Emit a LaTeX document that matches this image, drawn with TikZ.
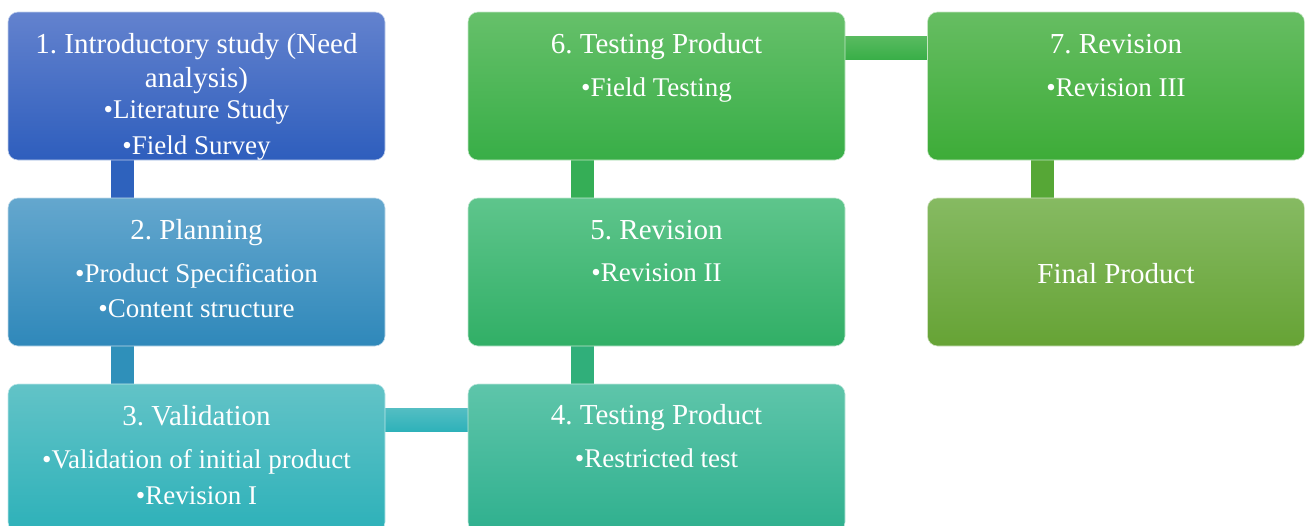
\documentclass[tikz,border=0pt]{standalone}
\usepackage{fontspec}
\setmainfont{Liberation Serif}
\usetikzlibrary{calc,backgrounds}
\frenchspacing
\definecolor{aT}{HTML}{6382CE}\definecolor{aB}{HTML}{2E5EBD}
\definecolor{bT}{HTML}{64A7CE}\definecolor{bB}{HTML}{2F88BA}
\definecolor{cT}{HTML}{62C3C7}\definecolor{cB}{HTML}{2DB1B9}
\definecolor{dT}{HTML}{5EC5AA}\definecolor{dB}{HTML}{2FB08E}
\definecolor{eT}{HTML}{5EC58C}\definecolor{eB}{HTML}{31AF66}
\definecolor{fT}{HTML}{66C06A}\definecolor{fB}{HTML}{38AE47}
\definecolor{gT}{HTML}{66BD62}\definecolor{gB}{HTML}{3DAC38}
\definecolor{hT}{HTML}{86BA62}\definecolor{hB}{HTML}{66A335}
\tikzset{
  stagebox/.style={rounded corners=10pt, minimum width=377pt, minimum height=148pt, inner sep=0pt, draw=white!70!#1, line width=0.6pt},
  ttl/.style={text=white, anchor=base, inner sep=0pt, font=\fontsize{29}{34}\selectfont},
  blt/.style={text=white, anchor=base, inner sep=0pt, font=\fontsize{27}{31}\selectfont},
}
\begin{document}
\begin{tikzpicture}[x=1pt,y=-1pt]
\useasboundingbox (0,0) rectangle (1305,525);
\clip (0,0) rectangle (1305,525);
% boxes
\node[stagebox=aB, top color=aT, bottom color=aB] (b1) at (196.5,86) {};
\node[stagebox=bB, top color=bT, bottom color=bB] (b2) at (196.5,272) {};
\node[stagebox=cB, top color=cT, bottom color=cB] (b3) at (196.5,458) {};
\node[stagebox=dB, top color=dT, bottom color=dB] (b4) at (656.5,458) {};
\node[stagebox=eB, top color=eT, bottom color=eB] (b5) at (656.5,272) {};
\node[stagebox=fB, top color=fT, bottom color=fB] (b6) at (656.5,86) {};
\node[stagebox=gB, top color=gT, bottom color=gB] (b7) at (1116,86) {};
\node[stagebox=hB, top color=hT, bottom color=hB] (b8) at (1116,272) {};
% connectors
\begin{scope}[on background layer]
\fill[color=aB!90!bB] ($(b1.south west)!0.305!(b1.south east)+(-11.5,-2)$) rectangle ($(b2.north west)!0.305!(b2.north east)+(11.5,2)$);
\fill[color=bB!80!cB] ($(b2.south west)!0.305!(b2.south east)+(-11.5,-2)$) rectangle ($(b3.north west)!0.305!(b3.north east)+(11.5,2)$);
\shade[top color=cT!70!cB, bottom color=cB] ($(b3.north east)!0.247!(b3.south east)+(-2,-11.5)$) rectangle ($(b4.north west)!0.247!(b4.south west)+(2,11.5)$);
\fill[color=dB!50!eB] ($(b5.south west)!0.305!(b5.south east)+(-11.5,-2)$) rectangle ($(b4.north west)!0.305!(b4.north east)+(11.5,2)$);
\fill[color=eB!50!fB] ($(b6.south west)!0.305!(b6.south east)+(-11.5,-2)$) rectangle ($(b5.north west)!0.305!(b5.north east)+(11.5,2)$);
\shade[top color=fT!70!fB, bottom color=fB] ($(b6.north east)!0.247!(b6.south east)+(-2,-11.5)$) rectangle ($(b7.north west)!0.247!(b7.south west)+(2,11.5)$);
\fill[color=gB!40!hB] ($(b7.south west)!0.305!(b7.south east)+(-11.5,-2)$) rectangle ($(b8.north west)!0.305!(b8.north east)+(11.5,2)$);
\end{scope}
% texts
\node[ttl] (t1a) at (196.5,53) {1. Introductory study (Need};
\node[ttl] (t1b) at (196.5,87) {analysis)};
\node[blt] (t1c) at (196.5,118) {•Literature Study};
\node[blt] (t1d) at (196.5,154) {•Field Survey};
\node[ttl] (t2a) at (196.5,239) {2. Planning};
\node[blt] (t2b) at (196.5,282) {•Product Specification};
\node[blt] (t2c) at (196.5,317) {•Content structure};
\node[ttl] (t3a) at (196.5,425) {3. Validation};
\node[blt] (t3b) at (196.5,468) {•Validation of initial product};
\node[blt] (t3c) at (196.5,504) {•Revision I};
\node[ttl] (t4a) at (656.5,424) {4. Testing Product};
\node[blt] (t4b) at (656.5,467) {•Restricted test};
\node[ttl] (t5a) at (656.5,239) {5. Revision};
\node[blt] (t5b) at (656.5,281) {•Revision II};
\node[ttl] (t6a) at (656.5,53) {6. Testing Product};
\node[blt] (t6b) at (656.5,96) {•Field Testing};
\node[ttl] (t7a) at (1116,53) {7. Revision};
\node[blt] (t7b) at (1116,96) {•Revision III};
\node[ttl] (t8a) at (1116,283) {Final Product};
\end{tikzpicture}
\end{document}
